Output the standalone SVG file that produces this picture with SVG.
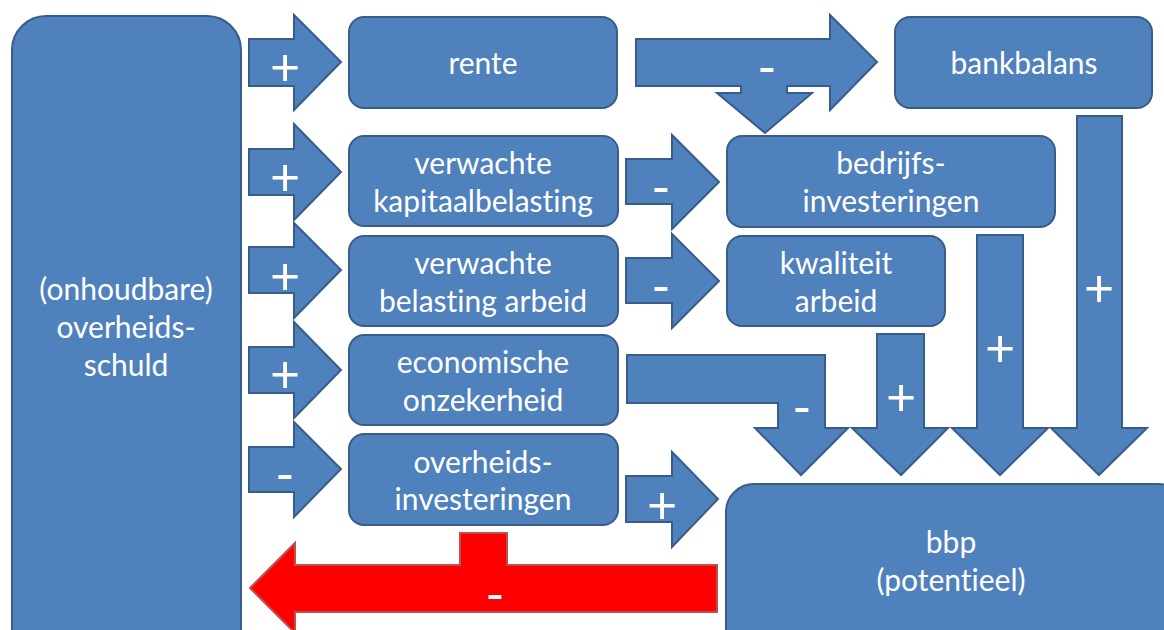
<svg xmlns="http://www.w3.org/2000/svg" width="1164" height="630" viewBox="0 0 1164 630">
<style>
.box{fill:#4F81BD;stroke:#385D8A;stroke-width:2}
.arr{fill:#4F81BD;stroke:#385D8A;stroke-width:2;stroke-linejoin:miter}
.red{fill:#FF0000;stroke:#C0504D;stroke-width:2}
.t{font-family:Lato,"Liberation Sans",sans-serif;font-size:30px;fill:#FFFFFF;text-anchor:middle;font-variant-ligatures:none}
.s{font-family:Lato,"Liberation Sans",sans-serif;font-size:52px;fill:#FFFFFF;text-anchor:middle}
</style>
<rect width="1164" height="630" fill="#FFFFFF"/>
<g id="connectors">
  <polygon class="arr" points="249,39 294,39 294,15 341,62 294,110 294,86 249,86"/>
  <polygon class="arr" points="249,149 294,149 294,124 341,172 294,220 294,195 249,195"/>
  <polygon class="arr" points="249,247 294,247 294,223 341,270 294,318 294,293 249,293"/>
  <polygon class="arr" points="249,347 294,347 294,322 341,370 294,418 294,393 249,393"/>
  <polygon class="arr" points="249,447 294,447 294,422 341,469 294,517 294,492 249,492"/>
  <polygon class="arr" points="636,39 830,39 830,15 877,62 830,110 830,86 787,86 787,93 812,93 765,133 717,93 741,93 741,86 636,86"/>
  <polygon class="arr" points="626,159 672,159 672,135 719,182 672,229 672,204 626,204"/>
  <polygon class="arr" points="626,258 672,258 672,234 719,281 672,328 672,303 626,303"/>
  <polygon class="arr" points="627,355 825,355 825,428 848,428 801,475 755,428 778,428 778,403 627,403"/>
  <polygon class="arr" points="877,334 924,334 924,428 948,428 901,475 852,428 877,428"/>
  <polygon class="arr" points="977,235 1023,235 1023,428 1048,428 1000,475 952,428 977,428"/>
  <polygon class="arr" points="1077,116 1122,116 1122,428 1147,428 1099,475 1051,428 1077,428"/>
  <polygon class="arr" points="626,476 672,476 672,452 718,499 672,547 672,522 626,522"/>
  <polygon class="red" points="717,565 717,612 295,612 295,633 250,588 295,543 295,565 460,565 460,533 507,533 507,565"/>
  <text class="s" x="285" y="86">+</text>
  <text class="s" x="285" y="196">+</text>
  <text class="s" x="285" y="295">+</text>
  <text class="s" x="285" y="393">+</text>
  <text class="s" x="285" y="493">-</text>
  <text class="s" x="767" y="86">-</text>
  <text class="s" x="661" y="206">-</text>
  <text class="s" x="661" y="305">-</text>
  <text class="s" x="802" y="426">-</text>
  <text class="s" x="901" y="416">+</text>
  <text class="s" x="1000" y="367">+</text>
  <text class="s" x="1099" y="307">+</text>
  <text class="s" x="662" y="524">+</text>
  <text class="s" x="495" y="613">-</text>
</g>
<g id="schuld">
  <rect class="box" x="12" y="16" width="229" height="660" rx="34"/>
  <text class="t" x="126" y="300">(onhoudbare)</text>
  <text class="t" x="126" y="338">overheids-</text>
  <text class="t" x="126" y="376">schuld</text>
</g>
<g id="rente">
  <rect class="box" x="349" y="17" width="268" height="91" rx="15"/>
  <text class="t" x="483" y="74">rente</text>
</g>
<g id="bankbalans">
  <rect class="box" x="895" y="17" width="257" height="91" rx="15"/>
  <text class="t" x="1024" y="74">bankbalans</text>
</g>
<g id="kapitaalbelasting">
  <rect class="box" x="349" y="136" width="269" height="90" rx="15"/>
  <text class="t" x="483" y="174">verwachte</text>
  <text class="t" x="483" y="212">kapitaalbelasting</text>
</g>
<g id="bedrijfsinvesteringen">
  <rect class="box" x="727" y="136" width="328" height="91" rx="15"/>
  <text class="t" x="891" y="174">bedrijfs-</text>
  <text class="t" x="891" y="212">investeringen</text>
</g>
<g id="belastingarbeid">
  <rect class="box" x="349" y="236" width="269" height="90" rx="15"/>
  <text class="t" x="483" y="274">verwachte</text>
  <text class="t" x="483" y="312">belasting arbeid</text>
</g>
<g id="kwaliteitarbeid">
  <rect class="box" x="727" y="236" width="218" height="90" rx="15"/>
  <text class="t" x="836" y="274">kwaliteit</text>
  <text class="t" x="836" y="312">arbeid</text>
</g>
<g id="onzekerheid">
  <rect class="box" x="349" y="335" width="269" height="90" rx="15"/>
  <text class="t" x="483" y="373">economische</text>
  <text class="t" x="483" y="411">onzekerheid</text>
</g>
<g id="overheidsinvesteringen">
  <rect class="box" x="349" y="434" width="269" height="91" rx="15"/>
  <text class="t" x="483" y="473">overheids-</text>
  <text class="t" x="483" y="510">investeringen</text>
</g>
<g id="bbp">
  <rect class="box" x="726" y="484" width="460" height="200" rx="28"/>
  <text class="t" x="951" y="553">bbp</text>
  <text class="t" x="951" y="591">(potentieel)</text>
</g>
</svg>
